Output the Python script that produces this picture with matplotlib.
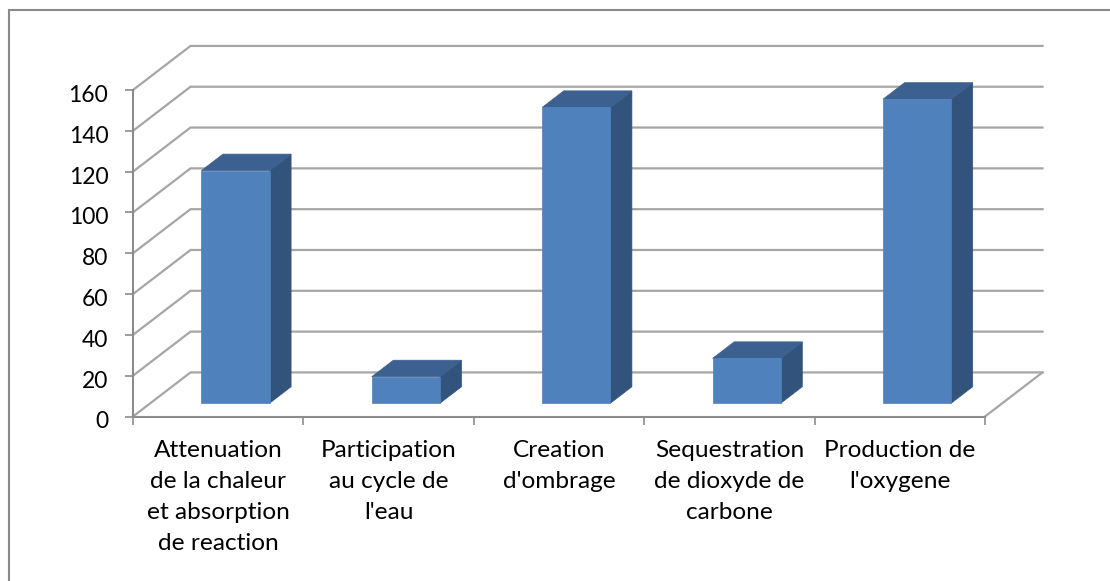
import matplotlib.pyplot as plt
from matplotlib.patches import Polygon
from matplotlib.lines import Line2D
from matplotlib.transforms import ScaledTranslation

categories = [
    "Attenuation\nde la chaleur\net absorption\nde reaction",
    "Participation\nau cycle de\nl'eau",
    "Creation\nd'ombrage",
    "Sequestration\nde dioxyde de\ncarbone",
    "Production de\nl'oxygene",
]
values = [114, 13, 145, 22, 149]
y_ticks = [0, 20, 40, 60, 80, 100, 120, 140, 160]

W, H = 1110, 581
# oblique projection: how far the back wall is shifted, in data units
DEPTH_X = 0.3375
DEPTH_Y = 21.6
BAR_WIDTH = 0.4
BAR_FRONT = 0.30
BAR_BACK = 0.675

FRONT = "#4f81bd"
TOP = "#3c6190"
SIDE = "#32547c"
GRID = "#a6a6a6"
AXIS = "#8c8c8c"

plt.rcParams["font.family"] = ["Lato", "DejaVu Sans"]

fig = plt.figure(figsize=(W / 100, H / 100), dpi=100)
ax = fig.add_axes([133 / W, 1 - 416.5 / H, (985 - 133) / W, (416.5 - 90) / H])
ax.set_xlim(0, 5)
ax.set_ylim(0, 160)
ax.patch.set_visible(False)


def proj(x, v, d):
    """position of point at category x, value v and depth d (0 front, 1 back)"""
    return x + d * DEPTH_X, v + d * DEPTH_Y


# frame round the chart, only the top and left sides are inside the picture
fig.add_artist(Line2D([8.5 / W, 8.5 / W, 1], [0, 1 - 10 / H, 1 - 10 / H], color="#8a8a8a",
                      linewidth=1.5, solid_joinstyle="miter"))

# gridlines on the side wall and back wall
for v in y_ticks:
    xs, ys = zip(proj(0, v, 0), proj(0, v, 1), proj(5, v, 1))
    ax.plot(xs, ys, color=GRID, linewidth=1.6, clip_on=False, zorder=1, solid_joinstyle="miter")

# right edge of the floor
xs, ys = zip(proj(5, 0, 0), proj(5, 0, 1))
ax.plot(xs, ys, color=GRID, linewidth=1.6, clip_on=False, zorder=1)

# bars, each one made of three faces
for i, val in enumerate(values):
    x0 = i + 0.5 - BAR_WIDTH / 2
    x1 = i + 0.5 + BAR_WIDTH / 2
    front = [proj(x0, 0, BAR_FRONT), proj(x1, 0, BAR_FRONT), proj(x1, val, BAR_FRONT), proj(x0, val, BAR_FRONT)]
    top = [proj(x0, val, BAR_FRONT), proj(x1, val, BAR_FRONT), proj(x1, val, BAR_BACK), proj(x0, val, BAR_BACK)]
    side = [proj(x1, 0, BAR_FRONT), proj(x1, 0, BAR_BACK), proj(x1, val, BAR_BACK), proj(x1, val, BAR_FRONT)]
    ax.add_patch(Polygon(side, facecolor=SIDE, edgecolor=SIDE, linewidth=0.5, clip_on=False, zorder=3))
    ax.add_patch(Polygon(top, facecolor=TOP, edgecolor=TOP, linewidth=0.5, clip_on=False, zorder=3))
    ax.add_patch(Polygon(front, facecolor=FRONT, edgecolor=FRONT, linewidth=0.5, clip_on=False, zorder=4))

# axes
for name in ("top", "right"):
    ax.spines[name].set_visible(False)
for name in ("left", "bottom"):
    ax.spines[name].set_color(AXIS)
    ax.spines[name].set_linewidth(1.5)
    ax.spines[name].set_zorder(2)

ax.set_yticks(y_ticks)
ax.set_xticks(range(6))
ax.set_xticklabels([])
ax.set_xticks([i + 0.5 for i in range(5)], minor=True)
ax.set_xticklabels(categories, minor=True, fontsize=17.6, linespacing=1.58, ha="center")
ax.tick_params(axis="y", which="major", length=5.8, width=1.2, color=AXIS, labelsize=16.5, pad=12, labelcolor="black")
ax.tick_params(axis="x", which="major", length=5.8, width=1.2, color=AXIS)
ax.tick_params(axis="x", which="minor", length=0, pad=17, labelcolor="black")

# y labels sit a little under their ticks
shift = ScaledTranslation(0, -3.5 / 100, fig.dpi_scale_trans)
for label in ax.get_yticklabels():
    label.set_transform(label.get_transform() + shift)

fig.savefig("out.png", dpi=100)
